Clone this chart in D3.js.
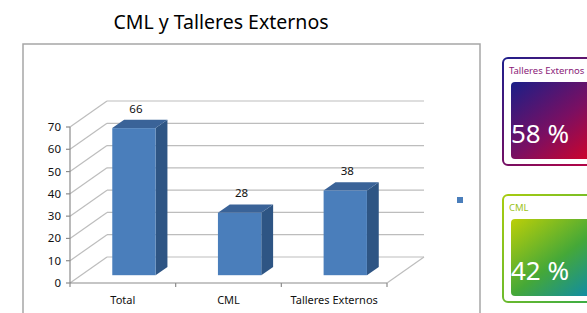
<!DOCTYPE html>
<html>
<head>
<meta charset="utf-8">
<script src="https://cdn.jsdelivr.net/npm/d3@7"></script>
<style>
  body { margin: 0; background: #fff; }
  svg { display: block; font-family: "Noto Sans", sans-serif; }
</style>
</head>
<body>
<div class="chart"></div>
<script>
// datos
var categories = ["Total", "CML", "Talleres Externos"];
var values = [66, 28, 38];
var yTicks = [0, 10, 20, 30, 40, 50, 60, 70];
var panelNames = ["Talleres Externos", "CML"];
var panelPercents = [58, 42];

var width = 587, height = 313;
var svg = d3.select("div.chart").append("svg").attr("width", width).attr("height", height);

var defs = svg.append("defs");
function grad(id, stops) {
  var g = defs.append("linearGradient").attr("id", id)
    .attr("x1", "0%").attr("y1", "0%").attr("x2", "100%").attr("y2", "100%");
  stops.forEach(function(s) { g.append("stop").attr("offset", s[0]).attr("stop-color", s[1]); });
}
grad("g1", [["0%", "#1a1f88"], ["50%", "#7a0f62"], ["100%", "#e6001c"]]);
grad("g1b", [["0%", "#1f1f8c"], ["100%", "#c8003c"]]);
grad("g2", [["0%", "#bccf08"], ["50%", "#45a838"], ["100%", "#0084c4"]]);
grad("g2b", [["0%", "#a8cc10"], ["100%", "#2fa84a"]]);

// marco
svg.append("rect").attr("x", 23).attr("y", 44).attr("width", 457).attr("height", 290)
  .attr("fill", "none").attr("stroke", "#a6a6a6").attr("stroke-width", 1.5);

// titulo
svg.append("text").attr("x", 221).attr("y", 29).attr("text-anchor", "middle")
  .attr("font-size", "19.5px").attr("fill", "#000").text("CML y Talleres Externos");

// escalas
var x = d3.scaleBand().domain(categories).range([70, 387]);
var y = d3.scaleLinear().domain([0, 70]).range([283, 127]);
var dx = 37, dy = -26; // profundidad
var f0 = 0.3, f1 = 0.62;

var grid = svg.append("g").attr("stroke", "#bdbdbd").attr("stroke-width", 1.2).attr("fill", "none");
yTicks.forEach(function(t) {
  grid.append("line").attr("x1", 70 + dx).attr("x2", 387 + dx)
    .attr("y1", y(t) + dy).attr("y2", y(t) + dy);
  grid.append("line").attr("x1", 70).attr("x2", 70 + dx)
    .attr("y1", y(t)).attr("y2", y(t) + dy);
});
grid.append("line").attr("x1", 387).attr("y1", y(0)).attr("x2", 387 + dx).attr("y2", y(0) + dy);

// ejes
var ax = svg.append("g").attr("stroke", "#8c8c8c").attr("stroke-width", 1.2);
ax.append("line").attr("x1", 70).attr("x2", 70).attr("y1", y(0)).attr("y2", y(70));
ax.append("line").attr("x1", 70).attr("x2", 387).attr("y1", y(0)).attr("y2", y(0));
yTicks.forEach(function(t) {
  ax.append("line").attr("x1", 66).attr("x2", 70).attr("y1", y(t)).attr("y2", y(t));
});
categories.forEach(function(c) {
  ax.append("line").attr("x1", x(c) + x.bandwidth()).attr("x2", x(c) + x.bandwidth())
    .attr("y1", y(0)).attr("y2", y(0) + 4);
});
ax.append("line").attr("x1", 70).attr("x2", 70).attr("y1", y(0)).attr("y2", y(0) + 4);

svg.append("g").selectAll("text").data(yTicks).enter().append("text")
  .attr("x", 61).attr("y", function(d) { return y(d); }).attr("dy", "0.35em")
  .attr("text-anchor", "end").attr("font-size", "11.5px").attr("fill", "#111")
  .text(function(d) { return d; });

svg.append("g").selectAll("text").data(categories).enter().append("text")
  .attr("x", function(d) { return x(d) + x.bandwidth() / 2; }).attr("y", 304)
  .attr("text-anchor", "middle").attr("font-size", "11px").attr("fill", "#111")
  .text(function(d) { return d; });

// barras 3D
var bw = x.bandwidth() * 0.41;
var bars = svg.append("g").selectAll("g").data(categories).enter().append("g");
function px(c) { return x(c) + x.bandwidth() / 2 - bw / 2 + dx * f0; }
var ox = dx * (f1 - f0), oy = dy * (f1 - f0);

bars.append("path").attr("fill", "#2e5584").attr("d", function(c, i) {
  var x0 = px(c) + bw, yt = y(values[i]) + dy * f0, yb = y(0) + dy * f0;
  return "M" + x0 + "," + yt + "L" + (x0 + ox) + "," + (yt + oy) + "L" + (x0 + ox) + "," + (yb + oy) + "L" + x0 + "," + yb + "Z";
});
bars.append("path").attr("fill", "#3a6398").attr("d", function(c, i) {
  var x0 = px(c), yt = y(values[i]) + dy * f0;
  return "M" + x0 + "," + yt + "L" + (x0 + ox) + "," + (yt + oy) + "L" + (x0 + bw + ox) + "," + (yt + oy) + "L" + (x0 + bw) + "," + yt + "Z";
});
bars.append("rect").attr("fill", "#4a7ebb")
  .attr("x", function(c) { return px(c); })
  .attr("y", function(c, i) { return y(values[i]) + dy * f0; })
  .attr("width", bw)
  .attr("height", function(c, i) { return y(0) - y(values[i]); });
bars.append("text").attr("text-anchor", "middle").attr("font-size", "11.5px").attr("fill", "#111")
  .attr("x", function(c) { return px(c) + bw / 2 + 2; })
  .attr("y", function(c, i) { return y(values[i]) + dy * f1 - 7; })
  .text(function(c, i) { return values[i]; });

// leyenda
svg.append("rect").attr("x", 457).attr("y", 197).attr("width", 6).attr("height", 6).attr("fill", "#4a7ebb");

// paneles
var panelY = [58, 195];
var panelH = [107, 107];
var fills = ["url(#g1)", "url(#g2)"];
var strokes = ["url(#g1b)", "url(#g2b)"];
var labelColors = ["#8a1a78", "#9cc21a"];
panelNames.forEach(function(n, i) {
  var g = svg.append("g");
  g.append("rect").attr("x", 503).attr("y", panelY[i]).attr("width", 110).attr("height", panelH[i])
    .attr("rx", 5).attr("fill", "#fff").attr("stroke", strokes[i]).attr("stroke-width", 2);
  g.append("text").attr("x", 509).attr("y", panelY[i] + 16).attr("font-size", "9.5px")
    .attr("fill", labelColors[i]).text(n);
  g.append("rect").attr("x", 511).attr("y", panelY[i] + 24).attr("width", 100).attr("height", panelH[i] - 30)
    .attr("rx", 4).attr("fill", fills[i]);
  g.append("text").attr("x", 511).attr("y", panelY[i] + 85).attr("font-size", "26px")
    .attr("fill", "#fff").text(panelPercents[i] + " %");
});
</script>
</body>
</html>
